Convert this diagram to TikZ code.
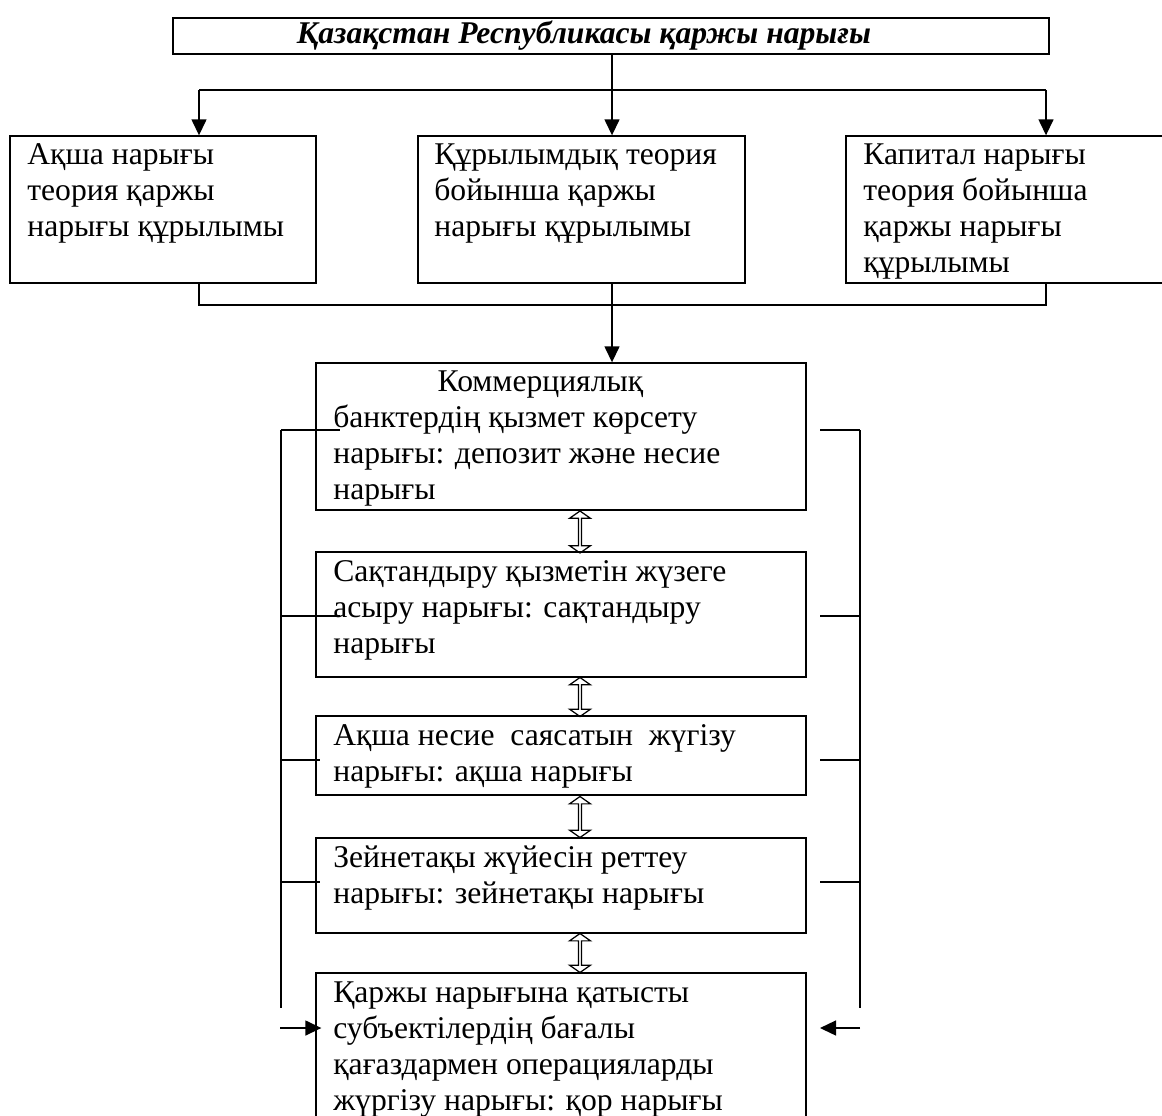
\documentclass[tikz,border=0pt]{standalone}
\usepackage{fontspec}
\setmainfont{Liberation Serif}
\usetikzlibrary{positioning,arrows.meta,shapes.arrows}

\newcommand{\boxfont}{\fontsize{18}{20.5}\selectfont}

\begin{document}
\begin{tikzpicture}[x=0.02cm,y=-0.02cm,
	box/.style={draw,line width=0.8pt,inner sep=0pt},
	txt/.style={anchor=north west,inner sep=0pt,align=left,font=\boxfont},
	link/.style={line width=0.8pt},
	arr/.style={line width=0.8pt,-{Triangle[length=0.32cm,width=0.3cm]}},
	dblarr/.style={double arrow,draw,line width=0.7pt,rotate=90,inner sep=0pt,
		minimum width=0.42cm,double arrow head extend=0.07cm,double arrow tip angle=110}]
	\useasboundingbox (0,0) rectangle (1162,1115);

	% top level
	\node[box,minimum width=17.52cm,minimum height=0.72cm](top) at (611,36){};
	\node[font=\fontsize{18}{20.5}\selectfont\bfseries\itshape](toptxt) at (584,36){Қазақстан Республикасы қаржы нарығы};

	% three theories
	\node[box,minimum width=6.12cm,minimum height=2.94cm](money) at (163,209.5){};
	\node[box,minimum width=6.54cm,minimum height=2.94cm](struct) at (581.5,209.5){};
	\node[box,minimum width=6.48cm,minimum height=2.94cm](capital) at (1008,209.5){};
	\node[txt](moneytxt) at (27,139){\strut Ақша нарығы\\ теория қаржы\\ нарығы құрылымы};
	\node[txt](structtxt) at (434,139){\strut Құрылымдық теория\\ бойынша қаржы\\ нарығы құрылымы};
	\node[txt](capitaltxt) at (863,139){\strut Капитал нарығы\\ теория бойынша\\ қаржы нарығы\\ құрылымы};

	% market stack
	\node[box,minimum width=9.8cm,minimum height=2.94cm](bank) at (561,436.5){};
	\node[box,minimum width=9.8cm,minimum height=2.5cm](insur) at (561,614.5){};
	\node[box,minimum width=9.8cm,minimum height=1.58cm](credit) at (561,755.5){};
	\node[box,minimum width=9.8cm,minimum height=1.9cm](pension) at (561,885.5){};
	\node[box,minimum width=9.8cm,minimum height=3.34cm](stock) at (561,1056.5){};
	\node[txt](banktxt) at (333,366){\strut\hspace{3.3em}Коммерциялық\\ банктердің қызмет көрсету\\ нарығы: депозит және несие\\ нарығы};
	\node[txt](insurtxt) at (333,556){\strut Сақтандыру қызметін жүзеге\\ асыру нарығы: сақтандыру\\ нарығы};
	\node[txt](credittxt) at (333,720){\strut Ақша несие\ \ саясатын\ \ жүгізу\\ нарығы: ақша нарығы};
	\node[txt](pensiontxt) at (333,842){\strut Зейнетақы жүйесін реттеу\\ нарығы: зейнетақы нарығы};
	\node[txt](stocktxt) at (333,977){\strut Қаржы нарығына қатысты\\ субъектілердің бағалы\\ қағаздармен операцияларды\\ жүргізу нарығы: қор нарығы};

	% double arrows between markets
	\node[dblarr,minimum height=0.84cm](d1) at (580,532){};
	\node[dblarr,minimum height=0.78cm](d2) at (580,697){};
	\node[dblarr,minimum height=0.82cm](d3) at (580,817){};
	\node[dblarr,minimum height=0.78cm](d4) at (580,953){};

	% split from the top
	\coordinate (jl) at (199,90);
	\coordinate (jm) at (612,90);
	\coordinate (jr) at (1046,90);
	\draw[link] (top.south -| jm) -- (jm);
	\draw[link] (jl) -- (jr);
	\draw[arr] (jl) -- (jl |- money.north);
	\draw[arr] (jm) -- (jm |- struct.north);
	\draw[arr] (jr) -- (jr |- capital.north);

	% join below
	\coordinate (kl) at (199,305);
	\coordinate (km) at (612,305);
	\coordinate (kr) at (1046,305);
	\draw[link] (kl |- money.south) -- (kl) -- (kr) -- (kr |- capital.south);
	\draw[link] (km |- struct.south) -- (km);
	\draw[arr] (km) -- (km |- bank.north);

	% side rails
	\coordinate (lt) at (281,430);
	\coordinate (lb) at (281,1008);
	\coordinate (rt) at (860,430);
	\coordinate (rb) at (860,1008);
	\draw[link] (lt) -- (lb);
	\draw[link] (rt) -- (rb);
	\foreach \y/\e in {430/340,616/340,760/320,882/320}
		\draw[link] (281,\y) -- (\e,\y);
	\foreach \y in {430,616,760,882}
		\draw[link] (820,\y) -- (860,\y);
	\coordinate (la) at (280,1028);
	\coordinate (ra) at (860,1028);
	\draw[arr] (la) -- ([xshift=0.12cm]la -| stock.west);
	\draw[arr] (ra) -- (820,1028);
\end{tikzpicture}
\end{document}
